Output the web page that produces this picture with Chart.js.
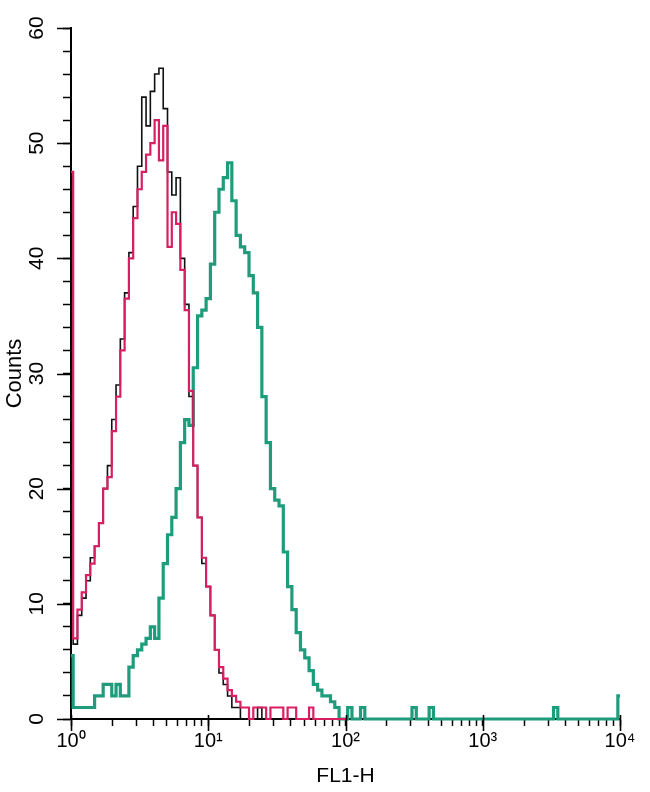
<!DOCTYPE html>
<html>
<head>
<meta charset="utf-8">
<script src="https://cdn.jsdelivr.net/npm/chart.js@4.4.1/dist/chart.umd.min.js"></script>
<style>
html, body { margin: 0; padding: 0; background: #ffffff; }
canvas { display: block; }
</style>
</head>
<body>
<canvas id="c" width="650" height="792"></canvas>
<script>
// FL1-H channel centres (1/32 decade bins, 10^0 .. 10^4)
const fl1Channels = [
  1, 1.075, 1.155, 1.241, 1.334, 1.433, 1.54, 1.655, 1.778, 1.911, 2.054, 2.207, 2.371, 2.548, 2.738, 2.943,
  3.162, 3.398, 3.652, 3.924, 4.217, 4.532, 4.87, 5.233, 5.623, 6.043, 6.494, 6.978, 7.499, 8.058, 8.66, 9.306,
  10, 10.75, 11.55, 12.41, 13.34, 14.33, 15.4, 16.55, 17.78, 19.11, 20.54, 22.07, 23.71, 25.48, 27.38, 29.43,
  31.62, 33.98, 36.52, 39.24, 42.17, 45.32, 48.7, 52.33, 56.23, 60.43, 64.94, 69.78, 74.99, 80.58, 86.6, 93.06,
  100, 107.5, 115.5, 124.1, 133.4, 143.3, 154, 165.5, 177.8, 191.1, 205.4, 220.7, 237.1, 254.8, 273.8, 294.3,
  316.2, 339.8, 365.2, 392.4, 421.7, 453.2, 487, 523.3, 562.3, 604.3, 649.4, 697.8, 749.9, 805.8, 866, 930.6,
  1000, 1075, 1155, 1241, 1334, 1433, 1540, 1655, 1778, 1911, 2054, 2207, 2371, 2548, 2738, 2943,
  3162, 3398, 3652, 3924, 4217, 4532, 4870, 5233, 5623, 6043, 6494, 6978, 7499, 8058, 8660, 9306,
  10000
];

// Counts per channel (black histogram)
const blackCounts = [
  47, 6.5, 9, 10.5, 12, 14, 15, 17, 20, 22, 26, 29, 33, 37, 40.5, 44.5,
  48, 54, 51.5, 54.5, 56, 56.5, 53, 47.5, 45.5, 47, 40, 36, 28, 22, 17.5, 13.5,
  11.5, 9, 6, 4, 3, 2, 1, 1, 0, 0, 0, 0, 1, 0, 0, 0,
  0, 0, 0, 0, 0, 0, 0, 0, 0, 0, 0, 0, 0, 0, 0, 0,
  0
];

// Counts per channel (magenta histogram)
const magentaCounts = [
  47.5, 7, 9.5, 11, 12.5, 13.5, 15, 17, 20, 21, 25, 28, 32, 36.5, 40, 43.5,
  46, 47.5, 49, 50, 52, 48.5, 51.5, 41, 44, 43, 39, 35.5, 28.5, 22, 17.5, 14,
  11.5, 9, 6, 4.5, 3.5, 2.5, 2, 1.5, 1, 1, 0, 1, 1, 1, 0, 1,
  1, 1, 0, 1, 1, 0, 0, 0, 1, 0, 0, 0, 0, 0, 0, 0,
  0
];

// Counts per channel (teal histogram)
const tealCounts = [
  5.5, 1, 1, 1, 1, 1, 2, 2, 3, 3, 2, 3, 2, 2, 4.5, 5.5,
  6, 6.5, 7, 8, 7, 10.5, 13.5, 16, 17.5, 20, 24, 26, 25.5, 30.5, 35, 35.5,
  36.5, 39.5, 44, 46, 47, 48.3, 45, 42, 41, 40.5, 38.5, 37, 34, 28, 24, 20,
  19, 18.5, 14.5, 11.5, 9.5, 7.5, 6, 5.3, 4.2, 3, 2.5, 2, 2, 1.5, 1, 0,
  0, 1, 0, 0, 1, 0, 0, 0, 0, 0, 0, 0, 0, 0, 0, 0,
  1, 0, 0, 0, 1, 0, 0, 0, 0, 0, 0, 0, 0, 0, 0, 0,
  0, 0, 0, 0, 0, 0, 0, 0, 0, 0, 0, 0, 0, 0, 0, 0,
  0, 1, 0, 0, 0, 0, 0, 0, 0, 0, 0, 0, 0, 0, 0, 0,
  2
];

// Axis ticks
const xTickValues = [1,2,3,4,5,6,7,8,9,10,20,30,40,50,60,70,80,90,100,200,300,400,500,600,700,800,900,
  1000,2000,3000,4000,5000,6000,7000,8000,9000,10000];
const xDecades = [1, 10, 100, 1000, 10000];
const xTickLabels = ['10\u2070', '10\u00B9', '10\u00B2', '10\u00B3', '10\u2074'];
const yTickValues = [0,2,4,6,8,10,12,14,16,18,20,22,24,26,28,30,32,34,36,38,40,42,44,46,48,50,52,54,56,58,60];
const yMajorValues = [0, 10, 20, 30, 40, 50, 60];
const yTickLabels = ['0', '10', '20', '30', '40', '50', '60'];
const xTitle = 'FL1-H';
const yTitle = 'Counts';

function toPoints(xs, ys) {
  return ys.map((v, i) => ({ x: xs[i], y: v }));
}

const FONT = "'Liberation Sans', Arial, Helvetica, sans-serif";

const majorTicks = {
  id: 'majorTicks',
  afterDraw(chart) {
    const ctx = chart.ctx;
    const xs = chart.scales.x, ys = chart.scales.y;
    const area = chart.chartArea;
    ctx.save();
    ctx.strokeStyle = '#000';
    ctx.lineWidth = 1.6;
    ctx.beginPath();
    xDecades.forEach(v => {
      const px = Math.round(xs.getPixelForValue(v)) + 0.5;
      ctx.moveTo(px, area.bottom - 4);
      ctx.lineTo(px, area.bottom + 12);
    });
    yMajorValues.forEach(v => {
      const py = Math.round(ys.getPixelForValue(v)) + 0.5;
      ctx.moveTo(area.left - 14, py);
      ctx.lineTo(area.left, py);
    });
    ctx.stroke();
    ctx.restore();
  }
};

new Chart(document.getElementById('c'), {
  type: 'line',
  data: {
    datasets: [
      {
        label: 'magenta',
        data: toPoints(fl1Channels, magentaCounts),
        borderColor: '#d81f62',
        borderWidth: 2.2,
        order: 0
      },
      {
        label: 'black',
        data: toPoints(fl1Channels, blackCounts),
        borderColor: '#111111',
        borderWidth: 1.6,
        order: 1
      },
      {
        label: 'teal',
        data: toPoints(fl1Channels, tealCounts),
        borderColor: '#1f9c7c',
        borderWidth: 3.2,
        order: 2
      }
    ]
  },
  options: {
    responsive: false,
    animation: false,
    devicePixelRatio: 1,
    layout: { padding: { top: 28, right: 30, left: 0, bottom: 0 } },
    elements: {
      point: { radius: 0, hoverRadius: 0 },
      line: { stepped: 'middle', fill: false, tension: 0, borderJoinStyle: 'miter' }
    },
    datasets: { line: { clip: false } },
    plugins: {
      legend: { display: false },
      tooltip: { enabled: false }
    },
    scales: {
      x: {
        type: 'logarithmic',
        min: 1,
        max: 10000,
        afterBuildTicks: (s) => { s.ticks = xTickValues.map(v => ({ value: v, major: false })); },
        afterFit: (s) => { s.height = 73; },
        ticks: {
          autoSkip: false,
          maxRotation: 0,
          minRotation: 0,
          padding: 3,
          color: '#000',
          font: { family: FONT, size: 20 },
          callback: (v) => {
            const k = xDecades.indexOf(v);
            return k >= 0 ? xTickLabels[k] : '';
          }
        },
        grid: {
          drawOnChartArea: false,
          drawTicks: true,
          tickLength: 7,
          tickColor: '#000',
          tickWidth: 1.5
        },
        border: { display: true, color: '#000', width: 2 },
        title: {
          display: true,
          text: xTitle,
          color: '#000',
          font: { family: FONT, size: 21 },
          padding: { top: 0, bottom: 3 }
        }
      },
      y: {
        type: 'linear',
        min: 0,
        max: 60,
        afterBuildTicks: (s) => { s.ticks = yTickValues.map(v => ({ value: v })); },
        afterFit: (s) => { s.width = 71; },
        ticks: {
          autoSkip: false,
          minRotation: 90,
          maxRotation: 90,
          crossAlign: 'center',
          padding: 14,
          color: '#000',
          font: { family: FONT, size: 21 },
          callback: (v) => {
            const k = yMajorValues.indexOf(v);
            return k >= 0 ? yTickLabels[k] : '';
          }
        },
        grid: {
          drawOnChartArea: false,
          drawTicks: true,
          tickLength: 8,
          tickColor: '#000',
          tickWidth: 1.5
        },
        border: { display: true, color: '#000', width: 2 },
        title: {
          display: true,
          text: yTitle,
          color: '#000',
          font: { family: FONT, size: 22 },
          padding: { top: 2, bottom: 0 }
        }
      }
    }
  },
  plugins: [majorTicks]
});
</script>
</body>
</html>
